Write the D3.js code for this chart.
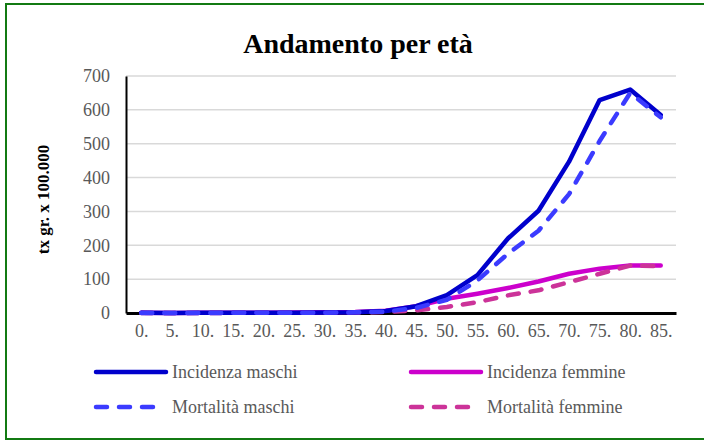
<!DOCTYPE html>
<html>
<head>
<meta charset="utf-8">
<script src="https://cdn.jsdelivr.net/npm/d3@7"></script>
<style>
  body { margin: 0; background: #fff; overflow: hidden; }
  text { font-family: "Liberation Serif", "Times New Roman", serif; }
</style>
</head>
<body>
<div id="chart"></div>
<script>
// chart data
var ages = ['0.', '5.', '10.', '15.', '20.', '25.', '30.', '35.', '40.', '45.', '50.', '55.', '60.', '65.', '70.', '75.', '80.', '85.'];
var incMaschi = [0.5, 0.3, 0.4, 0.6, 0.8, 1, 1.5, 2.5, 6, 20, 53, 112, 220, 302, 447, 629, 660, 585];
var mortMaschi = [0.3, 0.2, 0.3, 0.4, 0.5, 0.7, 1, 2, 4, 15, 39, 96, 175, 243, 351, 508, 650, 578];
var incFemmine = [0.5, 0.3, 0.4, 0.6, 0.8, 1.2, 2, 3, 7, 20, 42, 57, 74, 93, 116, 131, 140, 140];
var mortFemmine = [0.3, 0.2, 0.3, 0.4, 0.5, 0.7, 1, 1.5, 3, 8, 18, 32, 52, 67, 91, 116, 140, 138];
var yTicks = [0, 100, 200, 300, 400, 500, 600, 700];

var series = [
  { name: 'Incidenza maschi', values: incMaschi, color: '#0000cc', dash: null },
  { name: 'Incidenza femmine', values: incFemmine, color: '#cc00cc', dash: null },
  { name: 'Mortalità maschi', values: mortMaschi, color: '#3b3bff', dash: '11,12' },
  { name: 'Mortalità femmine', values: mortFemmine, color: '#cc3399', dash: '11,12' }
];

var width = 704;
var height = 441;
var plotLeft = 126, plotRight = 676, plotTop = 76, plotBottom = 313;

var svg = d3.select('#chart')
  .append('svg')
  .attr('width', width)
  .attr('height', height);

// outer frame (right edge falls outside the picture, as in the original)
svg.append('rect')
  .attr('x', 6)
  .attr('y', 4)
  .attr('width', 710)
  .attr('height', 435)
  .attr('fill', 'none')
  .attr('stroke', '#137a13')
  .attr('stroke-width', 2);

svg.append('text')
  .attr('x', 358)
  .attr('y', 53)
  .attr('text-anchor', 'middle')
  .attr('font-size', '28px')
  .attr('font-weight', 'bold')
  .attr('fill', '#000')
  .text('Andamento per età');

var x = d3.scalePoint()
  .domain(ages)
  .range([plotLeft, plotRight])
  .padding(0.5);

var y = d3.scaleLinear()
  .domain([0, 700])
  .range([plotBottom, plotTop]);

// gridlines
svg.append('g')
  .selectAll('line')
  .data(yTicks.slice(1))
  .enter()
  .append('line')
    .attr('x1', plotLeft)
    .attr('x2', plotRight)
    .attr('y1', function(d) { return y(d); })
    .attr('y2', function(d) { return y(d); })
    .attr('stroke', '#d9d9d9')
    .attr('stroke-width', 1.5);

// y axis
var yAxis = svg.append('g')
  .attr('transform', 'translate(' + plotLeft + ',0)')
  .call(d3.axisLeft(y).tickValues(yTicks).tickSize(0).tickPadding(16));
yAxis.select('.domain').attr('stroke', '#000').attr('stroke-width', 2);
yAxis.selectAll('text')
  .attr('font-family', '"Liberation Serif", serif')
  .attr('font-size', '18px')
  .attr('fill', '#595959');

// x axis
var xAxis = svg.append('g')
  .attr('transform', 'translate(0,' + plotBottom + ')')
  .call(d3.axisBottom(x).tickSize(0).tickPadding(11));
xAxis.select('.domain').attr('stroke', '#000').attr('stroke-width', 3);
xAxis.selectAll('text')
  .attr('font-family', '"Liberation Serif", serif')
  .attr('font-size', '18px')
  .attr('fill', '#595959');

svg.append('text')
  .attr('transform', 'translate(49,' + ((plotTop + plotBottom) / 2 + 5) + ') rotate(-90)')
  .attr('text-anchor', 'middle')
  .attr('font-size', '17px')
  .attr('font-weight', 'bold')
  .attr('fill', '#000')
  .text('tx gr. x 100.000');

var line = d3.line()
  .x(function(d, i) { return x(ages[i]); })
  .y(function(d) { return y(d); });

// draw females first then males so blue sits on top
[1, 3, 0, 2].forEach(function(k) {
  var s = series[k];
  svg.append('path')
    .datum(s.values)
    .attr('d', line)
    .attr('fill', 'none')
    .attr('stroke', s.color)
    .attr('stroke-width', 4.5)
    .attr('stroke-linejoin', 'round')
    .attr('stroke-linecap', 'round')
    .attr('stroke-dasharray', s.dash);
});

// legend
var legendPos = [[96, 372], [411, 372], [96, 407], [411, 407]];
var legend = svg.selectAll('.legend')
  .data(series)
  .enter()
  .append('g')
    .attr('class', 'legend')
    .attr('transform', function(d, i) { return 'translate(' + legendPos[i][0] + ',' + legendPos[i][1] + ')'; });

legend.append('line')
  .attr('x1', 0)
  .attr('x2', function(d) { return d.dash ? 62 : 70; })
  .attr('y1', 0)
  .attr('y2', 0)
  .attr('stroke', function(d) { return d.color; })
  .attr('stroke-width', 4.5)
  .attr('stroke-linecap', 'round')
  .attr('stroke-dasharray', function(d) { return d.dash; });

legend.append('text')
  .attr('x', 76)
  .attr('y', 6)
  .attr('font-size', '18px')
  .attr('fill', '#595959')
  .text(function(d) { return d.name; });
</script>
</body>
</html>
